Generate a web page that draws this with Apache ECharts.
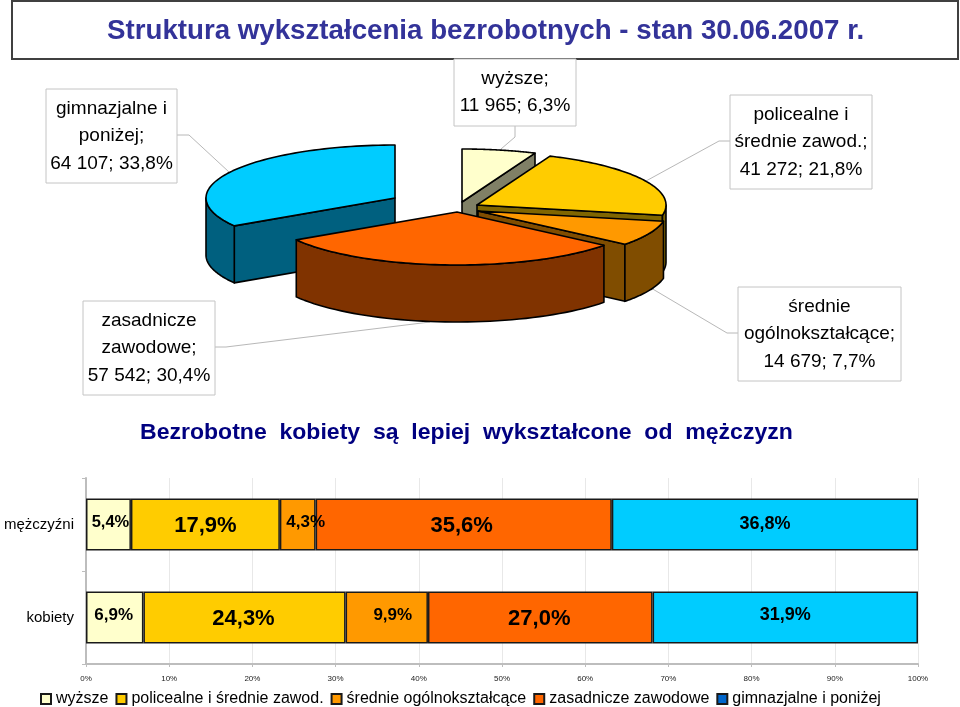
<!DOCTYPE html>
<html><head><meta charset="utf-8">
<style>html,body{margin:0;padding:0;background:#fff}#c{width:960px;height:707px}</style>
<script src="https://cdn.jsdelivr.net/npm/echarts@6/dist/echarts.min.js"></script>
</head><body><div id="c"></div>
<script>
// ---- data ----
const chartTitle = 'Struktura wykształcenia bezrobotnych - stan 30.06.2007 r.';
const barTitle = 'Bezrobotne  kobiety  są  lepiej  wykształcone  od  mężczyzn';
const pieNames = [['gimnazjalne i','poniżej'],['zasadnicze','zawodowe'],['średnie','ogólnokształcące'],['policealne i','średnie zawod.'],['wyższe']];
const pieValues = [64107, 57542, 14679, 41272, 11965];
const piePercents = ['33,8%','30,4%','7,7%','21,8%','6,3%'];
const barCategories = ['mężczyźni','kobiety'];
const barSeriesNames = ['wyższe','policealne i średnie zawod.','średnie ogólnokształcące','zasadnicze zawodowe','gimnazjalne i poniżej'];
const wyzsze = [5.4, 6.9];
const policealne = [17.9, 24.3];
const ogolnoksztalcace = [4.3, 9.9];
const zasadnicze = [35.6, 27.0];
const gimnazjalne = [36.8, 31.9];
const barValues = [wyzsze, policealne, ogolnoksztalcace, zasadnicze, gimnazjalne];

// ---- styles & layout ----
const FONT = '"Liberation Sans", Arial, sans-serif';
const pieTop = ['#00CCFF','#FF6600','#FF9900','#FFCC00','#FFFFCC'];
const pieWall = ['#00607F','#803300','#804D00','#806600','#808066'];
const RX = 189, RY = 53, DEPTH = 57;
const pieApex = [[395,198],[457,212],[478,211],[477,205],[462,202]];
const paintOrder = [0,4,3,2,1];
const labelBoxes = [[46,89,131,94],[83,301,132,94],[738,287,163,94],[730,95,142,94],[454,59,122,67]];
const leaders = [
  [[177,135],[189,135],[229,172]],
  [[215,347],[226,347],[430,322]],
  [[738,333],[727,333],[651,288]],
  [[730,141],[719,141],[646,181]],
  [[515,126],[515,137],[501,149]]
];
const barColors = ['#FFFFCC','#FFCC00','#FF9900','#FF6600','#00CCFF'];
const labelSize = [[16.5,17],[22,22],[17,17],[22,22],[18,18]];
const labelOffset = [[2,-2],[0,1],[8,-2],[-2,1],[0,0]];
const labelOffsetF = [[-1,-2],[-1,1],[6,-2],[-1,1],[0,-2]];

const total = pieValues.reduce((a,b)=>a+b,0);
const cum = [0]; pieValues.forEach((v,i)=>cum.push(cum[i]+v));
const ang = i => cum[i]/total*2*Math.PI;
const fmt = n => String(n).replace(/\B(?=(\d{3})+$)/g,' ');
const comma = v => v.toFixed(1).replace('.',',')+'%';

function renderSlice(params){
  const i = paintOrder[params.dataIndex];
  const [cx,cy] = pieApex[i];
  const t1 = ang(i), t2 = ang(i+1);
  const P = (t,d=0)=>[cx-Math.sin(t)*RX, cy-Math.cos(t)*RY+d];
  const sty = f=>({fill:f, stroke:'#000', lineWidth:1.6, lineJoin:'round'});
  const kids = [];
  const cut = t => ({type:'polygon',shape:{points:[[cx,cy],P(t),P(t,DEPTH),[cx,cy+DEPTH]]},style:sty(pieWall[i])});
  if (Math.sin(t2) > 0.01) kids.push(cut(t2));
  if (Math.sin(t1) < -0.01) kids.push(cut(t1));
  const a = Math.max(t1, Math.PI/2), b = Math.min(t2, Math.PI*1.5);
  if (b > a){
    const top=[], bot=[];
    for(let k=0;k<=48;k++){const t=a+(b-a)*k/48; top.push(P(t)); bot.unshift(P(t,DEPTH));}
    kids.push({type:'polygon',shape:{points:top.concat(bot)},style:sty(pieWall[i])});
  }
  const pts=[[cx,cy]];
  for(let k=0;k<=72;k++){pts.push(P(t1+(t2-t1)*k/72));}
  kids.push({type:'polygon',shape:{points:pts},style:sty(pieTop[i])});
  return {type:'group',children:kids};
}
function renderLabel(params){
  const i = params.dataIndex, [x,y,w,h] = labelBoxes[i];
  const names = pieNames[i].slice();
  names[names.length-1] += ';';
  const text = names.concat(fmt(pieValues[i])+'; '+piePercents[i]).join('\n');
  return {type:'group',children:[
    {type:'polyline',shape:{points:leaders[i]},style:{fill:'none',stroke:'#B8B8B8',lineWidth:1}},
    {type:'rect',shape:{x:x,y:y,width:w,height:h},style:{fill:'#fff',stroke:'#C4C4C4',lineWidth:1}},
    {type:'text',style:{text:text,x:x+w/2,y:y+h/2,align:'center',verticalAlign:'middle',fill:'#000',fontFamily:FONT,fontSize:19,lineHeight:27.5}}
  ]};
}

const barSeries = barSeriesNames.map((name,s)=>({
  name:name,type:'bar',stack:'total',barWidth:52,
  itemStyle:{color:barColors[s],borderColor:'#1a1a1a',borderWidth:1.5},
  data:barValues[s].map((v,c)=>{
    const off = c===0?labelOffset[s]:labelOffsetF[s];
    return {value:v,label:{show:true,position:'inside',offset:off,formatter:comma(v),fontFamily:FONT,fontWeight:'bold',fontSize:labelSize[s][c],color:'#000'}};
  })
}));

const chart = echarts.init(document.getElementById('c'),null,{renderer:'canvas'});
chart.setOption({
  animation:false,
  backgroundColor:'#fff',
  title:{text:chartTitle,left:107,top:17,padding:0,textStyle:{fontFamily:FONT,fontWeight:'bold',fontSize:27.7,color:'#333399'}},
  graphic:[
    {type:'rect',z:-1,shape:{x:12,y:1,width:946,height:58},style:{fill:'#fff',stroke:'#404040',lineWidth:2}},
    {type:'text',x:140,y:433,scaleX:1.047,style:{text:barTitle,fontFamily:FONT,fontWeight:'bold',fontSize:22,fill:'#000080',align:'left',verticalAlign:'middle'}}
  ],
  legend:{
    left:35,top:686,itemWidth:10,itemHeight:10,itemGap:7,icon:'rect',
    textStyle:{fontFamily:FONT,fontSize:16,color:'#000'},
    data:barSeriesNames.map((n,s)=> s===4?{name:n,itemStyle:{color:'#0066CC'}}:{name:n})
  },
  grid:{left:86,right:42,top:478,bottom:43},
  xAxis:{type:'value',min:0,max:100,interval:10,position:'bottom',
    axisLine:{show:true,lineStyle:{color:'#BDBDBD',width:2}},
    axisTick:{show:true,length:3,lineStyle:{color:'#BDBDBD'}},
    splitLine:{show:true,lineStyle:{color:'#E8E8E8',width:1}},
    axisLabel:{formatter:'{value}%',fontFamily:FONT,fontSize:8,color:'#222',margin:11}},
  yAxis:{type:'category',inverse:true,data:barCategories,
    axisLine:{show:true,lineStyle:{color:'#BDBDBD',width:2}},
    axisTick:{show:true,length:4,lineStyle:{color:'#BDBDBD'}},
    axisLabel:{fontFamily:FONT,fontSize:15,color:'#000',margin:12}},
  series:barSeries.concat([
    {type:'custom',name:'etykiety',coordinateSystem:'none',z:3,silent:true,renderItem:renderLabel,data:pieValues},
    {type:'custom',name:'struktura',coordinateSystem:'none',z:4,silent:true,renderItem:renderSlice,data:paintOrder.map(i=>pieValues[i])}
  ])
});
</script></body></html>
